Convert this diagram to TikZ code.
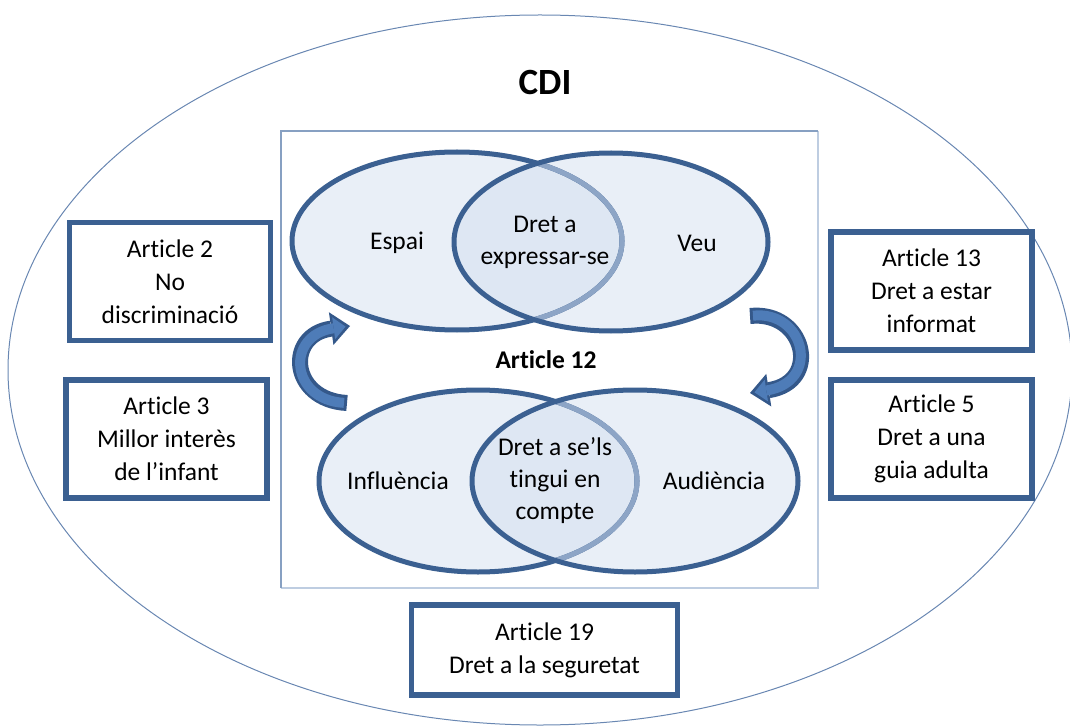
\documentclass[tikz,border=0pt]{standalone}
\usepackage{fontspec}
\setmainfont[Ligatures={NoCommon,NoContextual}]{Carlito}
\usetikzlibrary{arrows.meta}

\definecolor{outerline}{RGB}{105,135,178}
\definecolor{framec}{RGB}{135,160,194}
\definecolor{framelight}{RGB}{190,205,225}
\definecolor{boxline}{RGB}{59,96,145}
\definecolor{vline}{RGB}{59,96,145}
\definecolor{vlight}{RGB}{141,165,198}
\definecolor{vfill}{RGB}{233,239,247}
\definecolor{vlens}{RGB}{222,231,243}
\definecolor{arrdark}{RGB}{52,88,138}
\definecolor{arrfill}{RGB}{78,124,184}

\tikzset{
  artbox/.style={draw=boxline, line width=5.5pt, fill=white, align=center,
    inner sep=0pt, minimum width=201pt, minimum height=118pt,
    font=\fontsize{25.5}{33}\selectfont},
  lbl/.style={align=center, inner sep=0pt, font=\fontsize{25.5}{32}\selectfont},
  vedge/.style={draw=vline, line width=5pt},
  cycleout/.style={draw=arrdark, line width=16pt,
    -{Triangle[length=19pt, width=33pt, line width=0pt]}},
  cyclein/.style={draw=arrfill, line width=10pt, shorten <=3pt, shorten >=4.5pt,
    -{Triangle[length=12pt, width=22pt, line width=0pt]}}
}

\begin{document}
\begin{tikzpicture}[x=1pt, y=-1pt]
\useasboundingbox (0,0) rectangle (1070,727);

% outer boundary of the convention
\draw[outerline, line width=1pt] (540,370) ellipse [x radius=532pt, y radius=355pt];

% frame around article 12: darker top and left, lighter right and bottom
\coordinate (ftl) at (281,131);
\coordinate (ftr) at (818,131);
\coordinate (fbr) at (818,588);
\coordinate (fbl) at (281,588);
\draw[framelight, line width=1.2pt] (ftr) -- (fbr) -- (fbl);
\draw[framec, line width=1.2pt] (fbl) -- (ftl) -- (ftr);

% ---- upper pair of circles ----
\fill[vfill] (457,241) ellipse [x radius=165pt, y radius=89pt];
\fill[vfill] (611,242) ellipse [x radius=157pt, y radius=89pt];
\begin{scope}
  \clip (457,241) ellipse [x radius=165pt, y radius=89pt];
  \fill[vlens] (611,242) ellipse [x radius=157pt, y radius=89pt];
\end{scope}
\draw[vedge] (457,241) ellipse [x radius=165pt, y radius=89pt];
\begin{scope}
  \clip (611,242) ellipse [x radius=157pt, y radius=89pt];
  \draw[draw=vlight, line width=5pt] (457,241) ellipse [x radius=165pt, y radius=89pt];
\end{scope}
\draw[vedge] (611,242) ellipse [x radius=157pt, y radius=89pt];

% ---- lower pair of circles ----
\fill[vfill] (478,481) ellipse [x radius=159pt, y radius=91pt];
\fill[vfill] (635,481) ellipse [x radius=163pt, y radius=91pt];
\begin{scope}
  \clip (478,481) ellipse [x radius=159pt, y radius=91pt];
  \fill[vlens] (635,481) ellipse [x radius=163pt, y radius=91pt];
\end{scope}
\draw[vedge] (478,481) ellipse [x radius=159pt, y radius=91pt];
\begin{scope}
  \clip (635,481) ellipse [x radius=163pt, y radius=91pt];
  \draw[draw=vlight, line width=5pt] (478,481) ellipse [x radius=159pt, y radius=91pt];
\end{scope}
\draw[vedge] (635,481) ellipse [x radius=163pt, y radius=91pt];

% ---- labels ----
\node[font=\fontsize{37}{40}\selectfont\bfseries, inner sep=0pt] (cdi) at (545,82) {CDI};
\node[lbl, font=\fontsize{25.5}{32}\selectfont\bfseries] (art12) at (546,360) {Article 12};
\node[lbl] (espai) at (397,243) {Espai};
\node[lbl] (expr) at (545,242) {Dret a\\expressar-se};
\node[lbl] (veu) at (697,243) {Veu};
\node[lbl] (infl) at (398,481) {Influència};
\node[lbl] (comp) at (555,481) {Dret a se’ls\\tingui en\\compte};
\node[lbl] (aud) at (714,481) {Audiència};

% ---- cycle arrows ----
\coordinate (la1) at (347,403);
\coordinate (la2) at (350,326);
\coordinate (ra1) at (750,316);
\coordinate (ra2) at (750,393);
\draw[cycleout] (la1) .. controls (290,400) and (285,335) .. (la2);
\draw[cyclein]  (la1) .. controls (290,400) and (285,335) .. (la2);
\draw[cycleout] (ra1) .. controls (805,310) and (822,382) .. (ra2);
\draw[cyclein]  (ra1) .. controls (805,310) and (822,382) .. (ra2);

% ---- related articles ----
\node[artbox] (a2) at (170,281.5) {Article 2\\No\\discriminació};
\node[artbox] (a3) at (166.5,439) {Article 3\\Millor interès\\de l’infant};
\node[artbox] (a13) at (931.5,291) {Article 13\\Dret a estar\\informat};
\node[artbox] (a5) at (931.5,439) {Article 5\\Dret a una\\guia adulta};
\node[artbox, minimum width=266pt, minimum height=90pt] (a19) at (544.5,650) {Article 19\\Dret a la seguretat};
\end{tikzpicture}
\end{document}
